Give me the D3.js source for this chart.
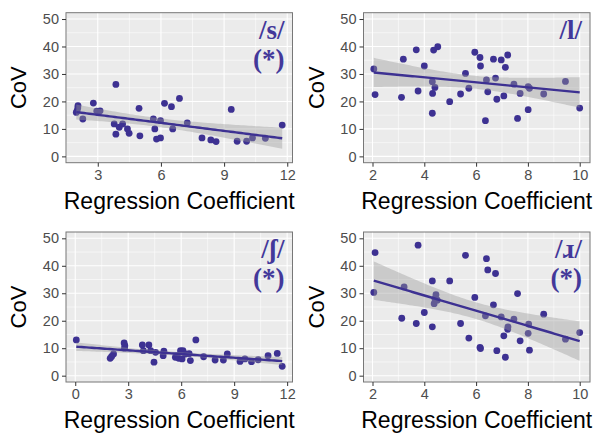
<!DOCTYPE html>
<html>
<head>
<meta charset="utf-8">
<script src="https://cdn.jsdelivr.net/npm/d3@7.9.0/dist/d3.min.js"></script>
<style>
  body { margin: 0; background: #fff; }
  svg { display: block; font-family: "Liberation Sans", Arial, sans-serif; }
</style>
</head>
<body>
<svg id="chart" width="602" height="433"></svg>
<script>
// values, one pair of arrays per panel
const sX = [1.98, 2.02, 2.05, 2.06, 2.29, 2.79, 2.95, 3.11, 3.78, 3.86, 3.86, 4.02, 4.18, 4.41, 4.49, 4.96, 5.0, 5.64,
  5.71, 5.79, 5.98, 5.98, 6.17, 6.5, 6.56, 6.88, 7.25, 7.95, 8.37, 8.62, 9.34, 9.62, 10.07, 10.35, 10.96, 11.76];
const sY = [16.0, 16.6, 17.6, 18.5, 13.6, 19.4, 16.5, 16.6, 11.8, 26.2, 8.1, 10.6, 11.8, 10.0, 8.4, 17.5, 7.5, 13.6,
  10.0, 6.3, 6.7, 13.0, 19.3, 18.1, 10.0, 21.1, 12.2, 6.7, 6.0, 5.4, 17.1, 5.5, 5.5, 6.7, 6.6, 11.4];

const lX = [2.05, 2.1, 3.12, 3.19, 3.69, 3.76, 4.0, 4.31, 4.32, 4.31, 4.36, 4.52, 4.41, 4.98, 5.4, 5.59, 5.72, 5.95, 6.15,
  6.17, 6.36, 6.4, 6.45, 6.67, 6.75, 6.8, 6.97, 7.07, 7.13, 7.22, 7.46, 7.6, 7.7, 8.01, 8.01, 8.06, 8.61, 9.45, 10.0];
const lY = [31.8, 22.5, 21.5, 35.4, 38.8, 23.8, 32.9, 27.2, 22.9, 15.7, 38.7, 39.9, 25.1, 19.9, 22.7, 30.2, 24.8, 37.9, 36.0,
  32.9, 13.0, 27.8, 23.5, 35.4, 28.5, 20.8, 35.1, 22.0, 32.4, 36.9, 26.3, 13.8, 22.9, 25.4, 17.0, 24.8, 22.7, 27.3, 17.6];

const shX = [0.06, 1.98, 2.06, 2.17, 2.77, 2.81, 2.79, 3.8, 3.86, 4.17, 4.27, 4.46, 4.55, 4.98, 5.02, 5.67, 5.77, 5.86,
  5.96, 6.05, 6.1, 6.24, 6.45, 6.52, 6.83, 7.27, 7.92, 8.39, 8.61, 9.33, 9.61, 9.98, 10.36, 10.92, 11.44, 11.72];
const shY = [13.0, 6.3, 7.0, 7.9, 11.9, 10.9, 10.0, 11.2, 9.1, 11.2, 9.1, 4.9, 8.5, 7.3, 8.9, 6.7, 7.3, 6.3,
  9.1, 6.1, 9.1, 7.9, 8.0, 5.5, 13.0, 6.9, 5.7, 5.7, 7.9, 5.2, 6.1, 5.1, 5.8, 7.3, 8.1, 3.4];

const rX = [2.05, 2.1, 3.13, 3.22, 3.69, 3.76, 4.0, 4.31, 4.31, 4.38, 4.41, 4.45, 4.5, 4.98, 5.4, 5.59, 5.72, 5.95, 6.15,
  6.17, 6.36, 6.4, 6.45, 6.67, 6.75, 6.8, 6.97, 7.07, 7.13, 7.22, 7.23, 7.46, 7.6, 7.7, 8.01, 8.03, 8.06, 8.61, 9.45, 10.0];
const rY = [30.3, 44.8, 20.9, 32.3, 19.0, 47.5, 23.0, 34.5, 17.8, 26.2, 28.0, 29.5, 27.5, 34.5, 19.0, 43.8, 13.7, 28.5, 10.3,
  9.9, 21.8, 42.6, 38.5, 25.8, 37.2, 9.1, 21.4, 14.5, 6.7, 16.9, 17.8, 20.6, 29.9, 12.7, 15.4, 18.8, 9.3, 22.4, 13.3, 15.7];

const yTicks = [0, 10, 20, 30, 40, 50];
const xTicksS = [3, 6, 9, 12];
const xTicksL = [2, 4, 6, 8, 10];
const xTicksSh = [0, 3, 6, 9, 12];
const xTicksR = [2, 4, 6, 8, 10];

const purple = '#3d3192';
const plotW = 226.5, plotH = 150;

const panels = [
  { xs: sX, ys: sY, ticks: xTicksS, label: '/s/', star: true, left: 66, top: 12.7 },
  { xs: lX, ys: lY, ticks: xTicksL, label: '/l/', star: false, left: 363.5, top: 12.7 },
  { xs: shX, ys: shY, ticks: xTicksSh, label: '/ʃ/', star: true, left: 66, top: 232 },
  { xs: rX, ys: rY, ticks: xTicksR, label: '/ɹ/', star: true, left: 363.5, top: 232 },
];

const svg = d3.select('#chart');

// ordinary least squares with a 95% band, like geom_smooth(method = "lm")
function fitLine(xs, ys) {
  const n = xs.length;
  const mx = d3.mean(xs), my = d3.mean(ys);
  let sxx = 0, sxy = 0;
  xs.forEach((x, i) => { sxx += (x - mx) ** 2; sxy += (x - mx) * (ys[i] - my); });
  const b = sxy / sxx, a = my - b * mx;
  let rss = 0;
  xs.forEach((x, i) => { rss += (ys[i] - a - b * x) ** 2; });
  const s = Math.sqrt(rss / (n - 2));
  const t = 1.96 + 2.4 / (n - 2);
  const [lo, hi] = d3.extent(xs);
  return d3.range(0, 81).map(k => {
    const x = lo + (hi - lo) * k / 80;
    const yhat = a + b * x;
    const se = s * Math.sqrt(1 / n + (x - mx) ** 2 / sxx);
    return { x, y: yhat, y0: yhat - t * se, y1: yhat + t * se };
  });
}

function minorOf(ticks) {
  const step = ticks[1] - ticks[0];
  const out = [ticks[0] - step / 2];
  ticks.forEach(t => out.push(t + step / 2));
  return out;
}

panels.forEach(p => {
  const [lo, hi] = d3.extent(p.xs);
  const pad = (hi - lo) * 0.05;
  const x = d3.scaleLinear().domain([lo - pad, hi + pad]).range([p.left, p.left + plotW]);
  const y = d3.scaleLinear().domain([-2.3, 52.3]).range([p.top + plotH, p.top]);
  const [x0, x1] = x.domain();

  const g = svg.append('g');

  g.append('rect')
    .attr('x', p.left).attr('y', p.top)
    .attr('width', plotW).attr('height', plotH)
    .attr('fill', '#ebebeb');

  // grid
  const yMinor = [5, 15, 25, 35, 45];
  g.selectAll('.ymin').data(yMinor).join('line')
    .attr('x1', p.left).attr('x2', p.left + plotW)
    .attr('y1', d => y(d)).attr('y2', d => y(d))
    .attr('stroke', '#fff').attr('stroke-width', 0.55);
  g.selectAll('.xmin').data(minorOf(p.ticks).filter(d => d > x0 && d < x1)).join('line')
    .attr('y1', p.top).attr('y2', p.top + plotH)
    .attr('x1', d => x(d)).attr('x2', d => x(d))
    .attr('stroke', '#fff').attr('stroke-width', 0.55);
  g.selectAll('.ymaj').data(yTicks).join('line')
    .attr('x1', p.left).attr('x2', p.left + plotW)
    .attr('y1', d => y(d)).attr('y2', d => y(d))
    .attr('stroke', '#fff').attr('stroke-width', 1.1);
  g.selectAll('.xmaj').data(p.ticks).join('line')
    .attr('y1', p.top).attr('y2', p.top + plotH)
    .attr('x1', d => x(d)).attr('x2', d => x(d))
    .attr('stroke', '#fff').attr('stroke-width', 1.1);

  // points first, then the band over them
  g.selectAll('circle').data(p.xs.map((d, i) => [d, p.ys[i]])).join('circle')
    .attr('cx', d => x(d[0])).attr('cy', d => y(d[1]))
    .attr('r', 3.4).attr('fill', purple);

  const fit = fitLine(p.xs, p.ys);
  g.append('path').datum(fit)
    .attr('d', d3.area().x(d => x(d.x)).y0(d => y(d.y0)).y1(d => y(d.y1)))
    .attr('fill', '#999').attr('fill-opacity', 0.4);
  g.append('path').datum(fit)
    .attr('d', d3.line().x(d => x(d.x)).y(d => y(d.y)))
    .attr('fill', 'none').attr('stroke', purple).attr('stroke-width', 2.4);

  g.append('rect')
    .attr('x', p.left).attr('y', p.top)
    .attr('width', plotW).attr('height', plotH)
    .attr('fill', 'none').attr('stroke', '#777').attr('stroke-width', 1);

  // axes
  const xAxis = g.append('g')
    .attr('transform', `translate(0,${p.top + plotH})`)
    .call(d3.axisBottom(x).tickValues(p.ticks).tickSize(4).tickPadding(3));
  const yAxis = g.append('g')
    .attr('transform', `translate(${p.left},0)`)
    .call(d3.axisLeft(y).tickValues(yTicks).tickSize(4).tickPadding(3));
  [xAxis, yAxis].forEach(a => {
    a.select('.domain').remove();
    a.selectAll('line').attr('stroke', '#333');
    a.selectAll('text').attr('fill', '#4d4d4d').style('font-size', '14.5px')
      .style('font-family', '"Liberation Sans", Arial, sans-serif');
  });

  g.append('text')
    .attr('x', p.left + plotW / 2).attr('y', p.top + plotH + 46)
    .attr('text-anchor', 'middle').attr('font-size', 23)
    .text('Regression Coefficient');
  g.append('text')
    .attr('transform', `translate(${p.left - 40},${p.top + plotH / 2}) rotate(-90)`)
    .attr('text-anchor', 'middle').attr('font-size', 22)
    .text('CoV');

  // phoneme label
  const lab = g.append('text')
    .attr('text-anchor', 'end')
    .attr('font-family', '"Liberation Serif", "DejaVu Serif", serif')
    .attr('font-weight', 'bold').attr('font-size', 27)
    .attr('fill', '#43389a');
  lab.append('tspan').attr('x', p.left + plotW - 8).attr('y', p.top + 26).text(p.label);
  if (p.star) {
    lab.append('tspan').attr('x', p.left + plotW - 8).attr('y', p.top + 55).text('(*)');
  }
});
</script>
</body>
</html>
